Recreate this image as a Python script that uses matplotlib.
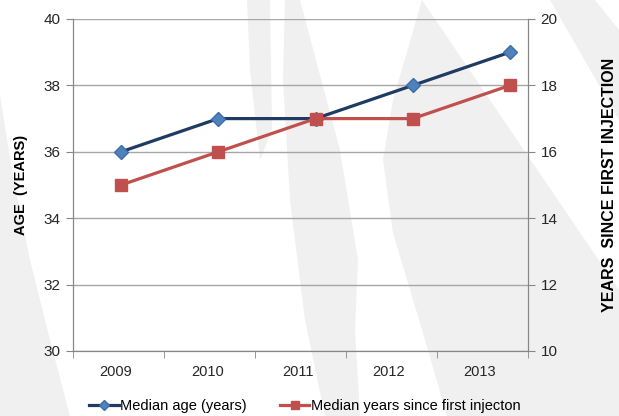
import matplotlib
matplotlib.use("Agg")
import matplotlib.pyplot as plt
import numpy as np
from matplotlib.patches import Polygon

# Datos
years = ["2009", "2010", "2011", "2012", "2013"]
median_age = [36, 37, 37, 38, 39]
years_since_injection = [15, 16, 17, 17, 18]

plt.rcParams['font.family'] = ['Liberation Sans', 'DejaVu Sans']

fig = plt.figure(figsize=(6.19, 4.16), dpi=100)

# Formas decorativas de fondo (gris muy claro)
bg = "#f0f0f0"
W, H = 619, 416
shapes = [
    [(0, 95), (12, 170), (30, 260), (50, 340), (70, 416), (0, 416)],
    [(247, 0), (270, 0), (272, 130), (260, 160), (250, 70)],
    [(285, 0), (300, 0), (340, 150), (358, 260), (355, 330), (360, 416),
     (325, 416), (305, 320), (290, 200), (283, 80)],
    [(422, 0), (619, 290), (619, 416), (447, 416), (423, 333), (393, 233),
     (383, 160), (393, 100)],
    [(550, 0), (595, 0), (619, 30), (619, 120)],
]
for pts in shapes:
    fig.patches.append(Polygon([(x / W, 1 - y / H) for x, y in pts], closed=True,
                               transform=fig.transFigure, facecolor=bg,
                               edgecolor="none", zorder=0))

ax = fig.add_axes([73 / W, 1 - 351 / H, (528 - 73) / W, (351 - 19) / H])
ax.set_facecolor("none")
ax.set_zorder(1)
ax2 = ax.twinx()
ax2.set_zorder(2)

x = np.arange(len(years))
xmin, xmax = -0.494, 4.185
ax.set_xlim(xmin, xmax)

l1, = ax.plot(x, median_age, color="#1f3b63", lw=2.3, marker="D", ms=7,
              mfc="#4f81bd", mec="#3d6da8", zorder=5)
l2, = ax2.plot(x, years_since_injection, color="#c0504d", lw=2.3, marker="s", ms=8,
               mfc="#c0504d", mec="#c0504d", zorder=5)

ax.set_ylim(30, 40)
ax.set_yticks(np.arange(30, 41, 2))
ax2.set_ylim(10, 20)
ax2.set_yticks(np.arange(10, 21, 2))
ax.grid(axis="y", color="#a6a6a6", lw=1)
ax.set_axisbelow(True)

# marcas entre categorias, etiquetas centradas
bounds = np.linspace(xmin, xmax, len(years) + 1)
label_pos = [-0.06, 0.895, 1.82, 2.75, 3.69]
ax.set_xticks(bounds, minor=True)
ax.set_xticks(label_pos)
ax.set_xticklabels(years)
ax.tick_params(axis="x", which="major", length=0, pad=10, labelsize=10.5, labelcolor="#262626")
ax.tick_params(axis="x", which="minor", length=5, color="#868686")
ax.tick_params(axis="y", length=5, color="#868686", labelsize=11, labelcolor="#262626", pad=4)
ax2.tick_params(axis="y", length=5, color="#868686", labelsize=11, labelcolor="#262626", pad=4)

for a in (ax, ax2):
    a.spines["top"].set_visible(False)
    for s in ("left", "right", "bottom"):
        a.spines[s].set_color("#868686")

ax.set_ylabel("AGE  (YEARS)", fontsize=10.5, fontweight="bold", labelpad=11)
ax2.set_ylabel("YEARS  SINCE FIRST INJECTION", fontsize=11.5, fontweight="bold", labelpad=32)

fig.legend([l1, l2], ["Median age (years)", "Median years since first injecton"],
           loc="center", bbox_to_anchor=(305 / W, 1 - 406 / H), ncol=2, frameon=False,
           fontsize=10.5, handlelength=2.0, columnspacing=2.3, handletextpad=0.1,
           markerscale=0.8)

fig.savefig("out.png", dpi=100)
